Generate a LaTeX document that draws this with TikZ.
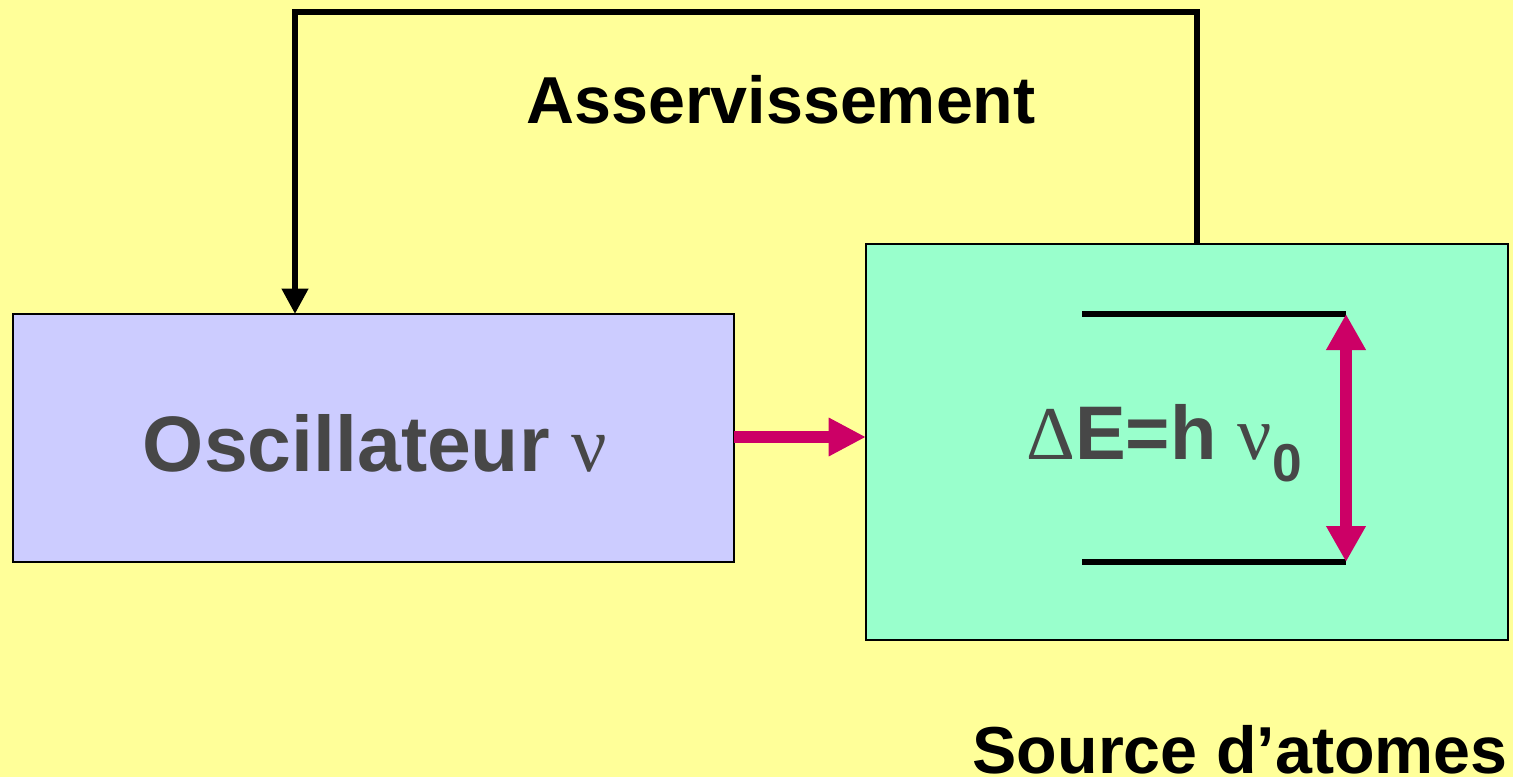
\documentclass[tikz,border=0pt]{standalone}
\usepackage{fontspec}
\setmainfont{Liberation Sans}
\newfontfamily\symfont{Liberation Serif}
\usetikzlibrary{arrows.meta}
\definecolor{bgyellow}{HTML}{FFFF99}
\definecolor{oscfill}{HTML}{CCCCFF}
\definecolor{srcfill}{HTML}{99FFCC}
\definecolor{magenta}{HTML}{CC0066}
\definecolor{txtgrey}{HTML}{474747}
\tikzset{
  box/.style={draw=black, line width=1.2pt, inner sep=0pt, outer sep=0pt},
  fb/.style={line width=4.5pt, line join=miter, -{Triangle[length=19pt,width=19pt]}},
  pinkarrow/.style={line width=9pt, draw=magenta, -{Triangle[length=28pt,width=27pt]}},
  dblarrow/.style={line width=9pt, draw=magenta, {Triangle[length=27pt,width=28pt]}-{Triangle[length=27pt,width=28pt]}},
  level/.style={line width=4.5pt},
  bigtxt/.style={inner sep=0pt, font=\bfseries\fontsize{49.8}{58}\selectfont},
}
\begin{document}
\begin{tikzpicture}[x=0.75pt,y=-0.75pt]
\useasboundingbox (0,0) rectangle (1513,777);
\fill[bgyellow] (0,0) rectangle (1513,777);
% boxes
\node[box, fill=oscfill, minimum width=540.75pt, minimum height=186pt, anchor=north west] (osc) at (13,314) {};
\node[box, fill=srcfill, minimum width=481.5pt, minimum height=297pt, anchor=north west] (src) at (866,244) {};
% feedback loop
\coordinate (fbL) at (295,12);
\coordinate (fbR) at (1197,12);
\draw[fb] (src.north -| fbR) -- (fbR) -- (fbL) -- (osc.north -| fbL);
\node[bigtxt, anchor=base] (asv) at (781,124) {Asservissement};
% oscillator label
\node[inner sep=0pt, anchor=base, text=txtgrey, font=\bfseries\fontsize{59}{68}\selectfont] (osclbl) at (375,471) {Oscillateur {\symfont\mdseries ν}};
% pink arrow
\draw[pinkarrow] (osc.east |- 0,437) -- (src.west |- 0,437);
% energy levels
\coordinate (hiL) at (1082,314);
\coordinate (hiR) at (1346,314);
\coordinate (loL) at (1082,562);
\coordinate (loR) at (1346,562);
\draw[level] (hiL) -- (hiR);
\draw[level] (loL) -- (loR);
\draw[dblarrow] (hiR) -- (loR);
\node[inner sep=0pt, anchor=base west, text=txtgrey, font=\bfseries\fontsize{57}{66}\selectfont] (elbl) at (1026,459) {{\symfont\mdseries Δ}E=h {\symfont\mdseries ν}\raisebox{-0.3em}{\fontsize{40}{48}\selectfont 0}};
% source label
\node[bigtxt, anchor=base east] (srclbl) at (1508,773) {Source d’atomes};
\end{tikzpicture}
\end{document}
